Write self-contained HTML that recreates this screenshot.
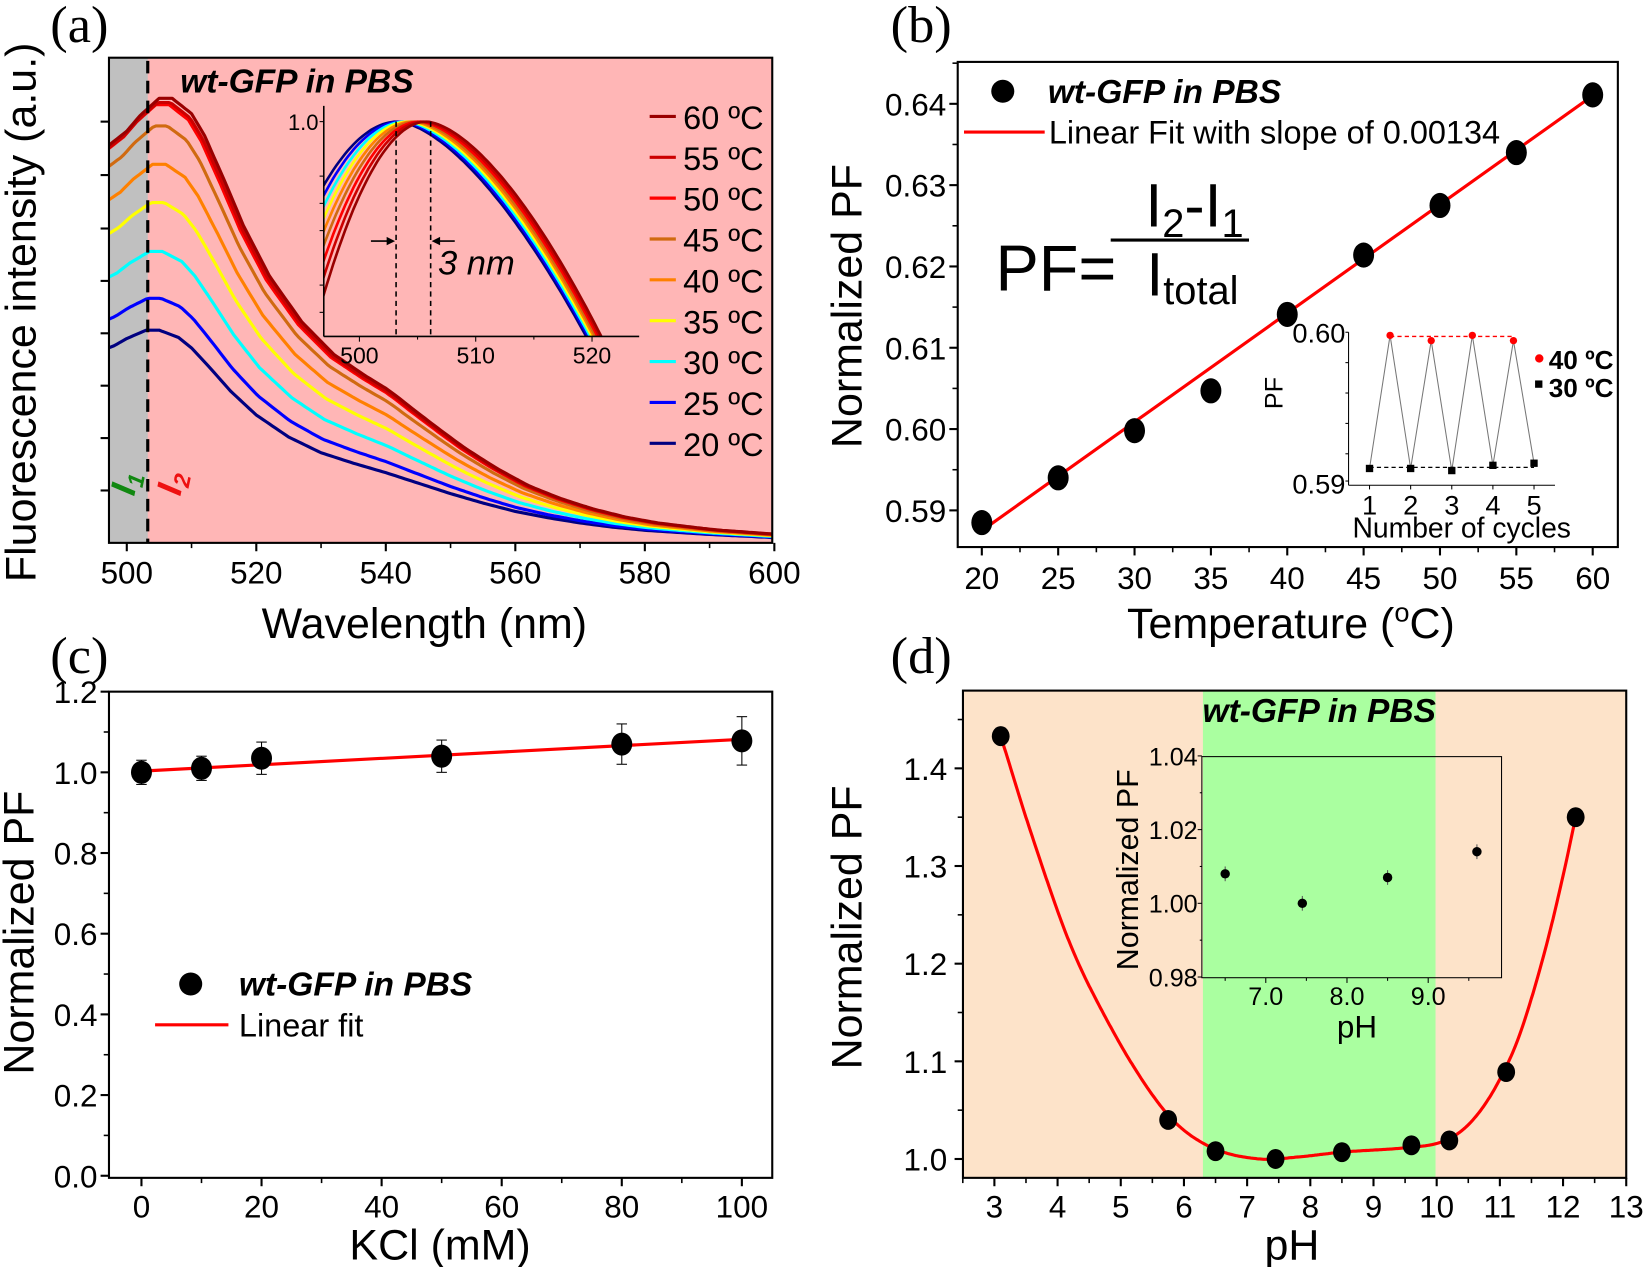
<!DOCTYPE html>
<html><head><meta charset="utf-8"><style>
html,body{margin:0;padding:0;background:#fff}
svg{display:block}
text{font-family:"Liberation Sans",sans-serif}
.t{font-size:30px}
.ti{font-size:41px}
.ser{font-family:"Liberation Serif",serif;font-size:50px}
</style></head><body>
<svg id="s" width="1643" height="1267" viewBox="0 0 1568 1209" xmlns="http://www.w3.org/2000/svg">
<defs>
<clipPath id="ca"><rect x="104" y="55" width="633" height="463"/></clipPath>
<clipPath id="cai"><rect x="309" y="101" width="301" height="220"/></clipPath>
</defs>
<!-- Panel a -->
<text class="ser" x="48" y="40">(a)</text>
<rect x="104" y="55" width="633" height="463" fill="#FFB6B6"/>
<rect x="104" y="55" width="37" height="463" fill="#C0C0C0"/>
<g id="acurves" clip-path="url(#ca)"></g>
<line x1="141" y1="58" x2="141" y2="518" stroke="#000" stroke-width="3" stroke-dasharray="12,7"/>
<rect x="104" y="55" width="633" height="463" fill="none" stroke="#000" stroke-width="2"/>
<text x="172" y="88" font-size="32" font-weight="bold" font-style="italic">wt-GFP in PBS</text>
<g id="aleg"></g>
<g id="ainset"></g>
<text transform="translate(128,474) rotate(-78)" font-size="34" font-weight="bold" font-style="italic" fill="#118811">I<tspan font-size="22" dy="6">1</tspan></text>
<text transform="translate(172,474) rotate(-78)" font-size="34" font-weight="bold" font-style="italic" fill="#EE1111">I<tspan font-size="22" dy="6">2</tspan></text>
<g id="aticks"></g>
<text class="ti" transform="translate(34,298) rotate(-90)" text-anchor="middle" font-size="40">Fluorescence intensity (a.u.)</text>
<text class="ti" x="405" y="609" text-anchor="middle">Wavelength (nm)</text>

<!-- Panel b -->
<text class="ser" x="850" y="40">(b)</text>
<rect x="914" y="59" width="630" height="463" fill="none" stroke="#000" stroke-width="2"/>
<g id="bplot"></g>
<circle cx="957" cy="87" r="11"/>
<text x="1000" y="98" font-size="32" font-weight="bold" font-style="italic">wt-GFP in PBS</text>
<line x1="920" y1="126" x2="997" y2="126" stroke="red" stroke-width="3"/>
<text x="1001" y="137" font-size="31">Linear Fit with slope of 0.00134</text>
<text x="950" y="277" font-size="62">PF=</text>
<line x1="1060" y1="229" x2="1192" y2="229" stroke="#000" stroke-width="3"/>
<text x="1140" y="216" font-size="58" text-anchor="middle">I<tspan font-size="38" dy="10">2</tspan><tspan dy="-10">-I</tspan><tspan font-size="38" dy="10">1</tspan></text>
<text x="1138" y="282" font-size="58" text-anchor="middle">I<tspan font-size="38" dy="8">total</tspan></text>
<g id="binset"></g>
<text class="ti" transform="translate(822,292) rotate(-90)" text-anchor="middle" font-size="42">Normalized PF</text>
<text class="ti" x="1232" y="609" text-anchor="middle">Temperature (<tspan font-size="26" dy="-16">o</tspan><tspan dy="16">C)</tspan></text>

<!-- Panel c -->
<text class="ser" x="48" y="642">(c)</text>
<rect x="104" y="660" width="633" height="464" fill="none" stroke="#000" stroke-width="2"/>
<g id="cplot"></g>
<circle cx="182" cy="939" r="11"/>
<text x="228" y="950" font-size="32" font-weight="bold" font-style="italic">wt-GFP in PBS</text>
<line x1="148" y1="978" x2="218" y2="978" stroke="red" stroke-width="3"/>
<text x="228" y="989" font-size="31">Linear fit</text>
<text class="ti" transform="translate(32,890) rotate(-90)" text-anchor="middle" font-size="42">Normalized PF</text>
<text class="ti" x="420" y="1202" text-anchor="middle">KCl (mM)</text>

<!-- Panel d -->
<text class="ser" x="850" y="642">(d)</text>
<rect x="919" y="659" width="633" height="465" fill="#FDE3C9"/>
<rect x="1148" y="659" width="222" height="465" fill="#AAFFA0"/>
<text x="1259" y="689" font-size="32" font-weight="bold" font-style="italic" text-anchor="middle">wt-GFP in PBS</text>
<g id="dplot"></g>
<rect x="919" y="659" width="633" height="465" fill="none" stroke="#000" stroke-width="2"/>
<text class="ti" transform="translate(822,885) rotate(-90)" text-anchor="middle" font-size="42">Normalized PF</text>
<text class="ti" x="1233" y="1202" text-anchor="middle">pH</text>
</svg>
<script>
var NS="http://www.w3.org/2000/svg";
function el(p,t,a,txt){var e=document.createElementNS(NS,t);for(var k in a)e.setAttribute(k,a[k]);if(txt!==undefined)e.textContent=txt;document.getElementById(p).appendChild(e);return e;}
function interp(tab,x){if(x<=tab[0][0])return tab[0][1];for(var i=1;i<tab.length;i++){if(x<=tab[i][0]){var a=tab[i-1],b=tab[i];return a[1]+(b[1]-a[1])*(x-a[0])/(b[0]-a[0]);}}return tab[tab.length-1][1];}
// Panel a
var base=[[490,172],[495,181],[498,188],[500,195],[503,203],[505,203],[508,196],[510,186],[513,166],[516,145],[520,122],[525,101],[530,86],[535,76],[540,67],[545,57],[550,47],[555,38],[560,30],[565,24],[570,19],[575,15],[580,12],[590,8],[600,5],[610,3]];
var cur=[[60,'#990000',2.09],[55,'#CC0000',2.07],[50,'#FF0000',2.06],[45,'#D06A10',1.96],[40,'#FF8000',1.78],[35,'#FFFF00',1.6],[30,'#00FFFF',1.37],[25,'#0000FF',1.15],[20,'#000080',1.0]];
function ax(l){return 121+(l-500)*6.18;}
function wt(l){if(l<540)return 1;if(l>590)return 0.45;return 1-0.55*(l-540)/50;}
cur.slice().reverse().forEach(function(c){var sh=(c[0]-20)/20,d='';for(var l=497;l<=601;l+=0.5){var s=1+(c[2]-1)*wt(l);var h=interp(base,l-sh)*s;var y=518-h;d+=(d?'L':'M')+ax(l).toFixed(1)+' '+y.toFixed(1);}el('acurves','path',{d:d,fill:'none',stroke:c[1],'stroke-width':3,'stroke-linejoin':'round'});});
cur.forEach(function(c,i){var y=111+i*39;el('aleg','line',{x1:620,y1:y,x2:645,y2:y,stroke:c[1],'stroke-width':3});el('aleg','text',{x:652,y:y+12,'font-size':31},c[0]+' ºC');});
[500,520,540,560,580,600].forEach(function(v){var x=ax(v);el('aticks','line',{x1:x,y1:518,x2:x,y2:526,stroke:'#000','stroke-width':2});el('aticks','text',{x:x,y:557,'text-anchor':'middle','class':'t'},v);});
[510,530,550,570,590].forEach(function(v){var x=ax(v);el('aticks','line',{x1:x,y1:518,x2:x,y2:523,stroke:'#000','stroke-width':1.5});});
[116,167,218,268,318,368,418,468].forEach(function(y){el('aticks','line',{x1:96,y1:y,x2:104,y2:y,stroke:'#000','stroke-width':2});});
// inset a
function ix(l){return 343+(l-500)*11.1;}
var g=el('ainset','g',{'clip-path':'url(#cai)'});
cur.slice().reverse().forEach(function(c){var f=(c[0]-20)/40,pk=503.3+2.5*f,d='';var R=519.5-pk+1.3*f;for(var l=496;l<=525;l+=0.25){var dd=l-pk,drop;if(dd<0)drop=(1.5+0.6*f)*dd*dd;else drop=205*Math.pow(dd/R,1.6);var y=116+drop;d+=(d?'L':'M')+ix(l).toFixed(1)+' '+y.toFixed(1);}var p=document.createElementNS(NS,'path');p.setAttribute('d',d);p.setAttribute('fill','none');p.setAttribute('stroke',c[1]);p.setAttribute('stroke-width',2.5);g.appendChild(p);});
el('ainset','line',{x1:309,y1:101,x2:309,y2:321,stroke:'#000','stroke-width':1.5});
el('ainset','line',{x1:309,y1:321,x2:610,y2:321,stroke:'#000','stroke-width':1.5});
[116,168,194,220,272,298].forEach(function(y){el('ainset','line',{x1:305,y1:y,x2:309,y2:y,stroke:'#000','stroke-width':1});});
el('ainset','text',{x:304,y:124,'font-size':21,'text-anchor':'end'},'1.0');
[500,510,520].forEach(function(v){el('ainset','line',{x1:ix(v),y1:321,x2:ix(v),y2:326,stroke:'#000'});el('ainset','text',{x:ix(v),y:347,'font-size':22,'text-anchor':'middle'},v);});
[505,515].forEach(function(v){el('ainset','line',{x1:ix(v),y1:321,x2:ix(v),y2:324,stroke:'#000'});});
[378,411].forEach(function(x){el('ainset','line',{x1:x,y1:116,x2:x,y2:321,stroke:'#000','stroke-width':1.5,'stroke-dasharray':'5,4'});});
el('ainset','line',{x1:354,y1:230,x2:372,y2:230,stroke:'#000','stroke-width':1.5});
el('ainset','path',{d:'M377 230 L369 226 L369 234Z'});
el('ainset','line',{x1:418,y1:230,x2:434,y2:230,stroke:'#000','stroke-width':1.5});
el('ainset','path',{d:'M412 230 L420 226 L420 234Z'});
el('ainset','text',{x:418,y:262,'font-size':33,'font-style':'italic'},'3 nm');
// Panel b
function bx(t){return 937+(t-20)*14.575;}function by(v){return 99+(0.64-v)*7760;}
[20,25,30,35,40,45,50,55,60].forEach(function(v){el('bplot','line',{x1:bx(v),y1:522,x2:bx(v),y2:530,stroke:'#000','stroke-width':2});el('bplot','text',{x:bx(v),y:562,'text-anchor':'middle','class':'t'},v);});
[22.5,27.5,32.5,37.5,42.5,47.5,52.5,57.5].forEach(function(v){el('bplot','line',{x1:bx(v),y1:522,x2:bx(v),y2:527,stroke:'#000','stroke-width':1.5});});
[0.59,0.60,0.61,0.62,0.63,0.64].forEach(function(v){var y=by(v);el('bplot','line',{x1:906,y1:y,x2:914,y2:y,stroke:'#000','stroke-width':2});el('bplot','text',{x:903,y:y+11,'text-anchor':'end','class':'t'},v.toFixed(2));el('bplot','line',{x1:909,y1:y-38.8,x2:914,y2:y-38.8,stroke:'#000','stroke-width':1.5});});
el('bplot','line',{x1:bx(20),y1:by(0.5875),x2:bx(60),y2:by(0.641),stroke:'red','stroke-width':3});
[[20,.5885],[25,.594],[30,.5998],[35,.6047],[40,.6141],[45,.6214],[50,.6275],[55,.634],[60,.6411]].forEach(function(p){el('bplot','ellipse',{cx:bx(p[0]),cy:by(p[1]),rx:10,ry:12});});
// inset b
function cx_(n){return 1307+(n-1)*39.25;}
el('binset','line',{x1:1287,y1:317,x2:1287,y2:463,stroke:'#000','stroke-width':1});
el('binset','line',{x1:1287,y1:463,x2:1484,y2:463,stroke:'#000','stroke-width':1});
[317,346,375,404,433,459].forEach(function(y){el('binset','line',{x1:1284,y1:y,x2:1287,y2:y,stroke:'#000','stroke-width':1});});
el('binset','text',{x:1284,y:327,'text-anchor':'end','font-size':26},'0.60');
el('binset','text',{x:1284,y:471,'text-anchor':'end','font-size':26},'0.59');
el('binset','text',{transform:'translate(1224,375) rotate(-90)','text-anchor':'middle','font-size':24},'PF');
[1,2,3,4,5].forEach(function(n){el('binset','line',{x1:cx_(n),y1:463,x2:cx_(n),y2:467,stroke:'#000'});el('binset','text',{x:cx_(n),y:491,'text-anchor':'middle','font-size':26},n);});
el('binset','text',{x:1395,y:513,'text-anchor':'middle','font-size':27},'Number of cycles');
var bl=[447,447,449,444,442],rd=[320,325,320,325];
var d='M'+cx_(1)+' '+bl[0];for(var i=0;i<4;i++){d+='L'+cx_(i+1.5)+' '+rd[i]+'L'+cx_(i+2)+' '+bl[i+1];}
el('binset','path',{d:d,fill:'none',stroke:'#777','stroke-width':1});
el('binset','line',{x1:cx_(1.5),y1:321,x2:cx_(4.5),y2:321,stroke:'red','stroke-width':1.2,'stroke-dasharray':'4,3'});
el('binset','line',{x1:cx_(1),y1:446,x2:cx_(5),y2:446,stroke:'#000','stroke-width':1.2,'stroke-dasharray':'4,3'});
rd.forEach(function(y,i){el('binset','circle',{cx:cx_(i+1.5),cy:y,r:3.5,fill:'red'});});
bl.forEach(function(y,i){el('binset','rect',{x:cx_(i+1)-3.5,y:y-3.5,width:7,height:7});});
el('binset','circle',{cx:1469,cy:342,r:4,fill:'red'});
el('binset','text',{x:1478,y:352,'font-size':25,'font-weight':'bold'},'40 ºC');
el('binset','rect',{x:1465,y:363,width:7,height:7});
el('binset','text',{x:1478,y:379,'font-size':25,'font-weight':'bold'},'30 ºC');
// Panel c
function kx(v){return 135+v*5.73;}function ky(v){return 1122-v*385;}
[0,20,40,60,80,100].forEach(function(v){el('cplot','line',{x1:kx(v),y1:1124,x2:kx(v),y2:1132,stroke:'#000','stroke-width':2});el('cplot','text',{x:kx(v),y:1162,'text-anchor':'middle','class':'t'},v);});
[10,30,50,70,90].forEach(function(v){el('cplot','line',{x1:kx(v),y1:1124,x2:kx(v),y2:1129,stroke:'#000','stroke-width':1.5});});
[0,0.2,0.4,0.6,0.8,1.0,1.2].forEach(function(v){var y=ky(v);el('cplot','line',{x1:96,y1:y,x2:104,y2:y,stroke:'#000','stroke-width':2});el('cplot','text',{x:93,y:y+11,'text-anchor':'end','class':'t'},v.toFixed(1));if(v<1.2)el('cplot','line',{x1:99,y1:y-38.5,x2:104,y2:y-38.5,stroke:'#000','stroke-width':1.5});});
el('cplot','line',{x1:kx(0),y1:ky(1.003),x2:kx(100),y2:ky(1.082),stroke:'red','stroke-width':3});
[[0,1.0,.03],[10,1.01,.03],[20,1.035,.04],[50,1.04,.04],[80,1.07,.05],[100,1.078,.06]].forEach(function(p){var x=kx(p[0]);el('cplot','line',{x1:x,y1:ky(p[1]-p[2]),x2:x,y2:ky(p[1]+p[2]),stroke:'#000','stroke-width':1});[p[1]-p[2],p[1]+p[2]].forEach(function(v){el('cplot','line',{x1:x-5,y1:ky(v),x2:x+5,y2:ky(v),stroke:'#000','stroke-width':1});});el('cplot','ellipse',{cx:x,cy:ky(p[1]),rx:10,ry:11});});
// Panel d
function px(v){return 949+(v-3)*60.3;}function py(v){return 1106-(v-1)*932;}
for(var v=3;v<=13;v++){el('dplot','line',{x1:px(v),y1:1124,x2:px(v),y2:1132,stroke:'#000','stroke-width':2});el('dplot','text',{x:px(v),y:1162,'text-anchor':'middle','class':'t'},v);el('dplot','line',{x1:px(v-0.5),y1:1124,x2:px(v-0.5),y2:1129,stroke:'#000','stroke-width':1.5});}
[1.0,1.1,1.2,1.3,1.4].forEach(function(v){var y=py(v);el('dplot','line',{x1:911,y1:y,x2:919,y2:y,stroke:'#000','stroke-width':2});el('dplot','text',{x:904,y:y+11,'text-anchor':'end','class':'t'},v.toFixed(1));el('dplot','line',{x1:914,y1:y-46.6,x2:919,y2:y-46.6,stroke:'#000','stroke-width':1.5});});
var cp=[[3.1,1.433],[3.6,1.33],[4.2,1.22],[4.8,1.14],[5.4,1.075],[5.9,1.035],[6.5,1.01],[7.2,1.0],[7.8,1.002],[8.5,1.007],[9.6,1.012],[10.1,1.018],[10.5,1.035],[10.9,1.07],[11.3,1.125],[11.7,1.21],[12.0,1.29],[12.2,1.35]];
function interpSm(x){for(var i=0;i<cp.length-1;i++){if(x<=cp[i+1][0]){var p0=cp[Math.max(i-1,0)],p1=cp[i],p2=cp[i+1],p3=cp[Math.min(i+2,cp.length-1)];var s=(x-p1[0])/(p2[0]-p1[0]);var m1=(p2[1]-p0[1])/(p2[0]-p0[0])*(p2[0]-p1[0]),m2=(p3[1]-p1[1])/(p3[0]-p1[0])*(p2[0]-p1[0]);var s2=s*s,s3=s2*s;return (2*s3-3*s2+1)*p1[1]+(s3-2*s2+s)*m1+(-2*s3+3*s2)*p2[1]+(s3-s2)*m2;}}return cp[cp.length-1][1];}
var d2='';for(var t=3.1;t<=12.2;t+=0.02){var y=interpSm(t);d2+=(d2?'L':'M')+px(t).toFixed(1)+' '+py(y).toFixed(1);}
el('dplot','path',{d:d2,fill:'none',stroke:'red','stroke-width':3});
[[3.1,1.433],[5.75,1.04],[6.5,1.008],[7.45,1.0],[8.5,1.007],[9.6,1.014],[10.2,1.019],[11.1,1.089],[12.2,1.35]].forEach(function(p){el('dplot','ellipse',{cx:px(p[0]),cy:py(p[1]),rx:8.5,ry:9.5});});
// inset d
function qx(v){return 1208+(v-7)*77.5;}function qy(v){return 862-(v-1)*3517;}
el('dplot','rect',{x:1147,y:722,width:286,height:211,fill:'none',stroke:'#000','stroke-width':1});
[0.98,1.0,1.02,1.04].forEach(function(v){var y=qy(v);el('dplot','line',{x1:1143,y1:y,x2:1147,y2:y,stroke:'#000'});el('dplot','text',{x:1143,y:y+9,'text-anchor':'end','font-size':24},v.toFixed(2));});
[0.99,1.01,1.03].forEach(function(v){el('dplot','line',{x1:1145,y1:qy(v),x2:1147,y2:qy(v),stroke:'#000'});});
[7,8,9].forEach(function(v){el('dplot','line',{x1:qx(v),y1:933,x2:qx(v),y2:938,stroke:'#000'});el('dplot','text',{x:qx(v),y:959,'text-anchor':'middle','font-size':24},v.toFixed(1));});
[6.5,7.5,8.5,9.5].forEach(function(v){el('dplot','line',{x1:qx(v),y1:933,x2:qx(v),y2:936,stroke:'#000'});});
el('dplot','text',{x:1295,y:990,'text-anchor':'middle','font-size':30},'pH');
el('dplot','text',{transform:'translate(1086,830) rotate(-90)','text-anchor':'middle','font-size':29},'Normalized PF');
[[6.5,1.008],[7.45,1.0],[8.5,1.007],[9.6,1.014]].forEach(function(p){var x=qx(p[0]);el('dplot','line',{x1:x,y1:qy(p[1]-0.002),x2:x,y2:qy(p[1]+0.002),stroke:'#555'});el('dplot','circle',{cx:x,cy:qy(p[1]),r:4.5});});
</script>
</body></html>
